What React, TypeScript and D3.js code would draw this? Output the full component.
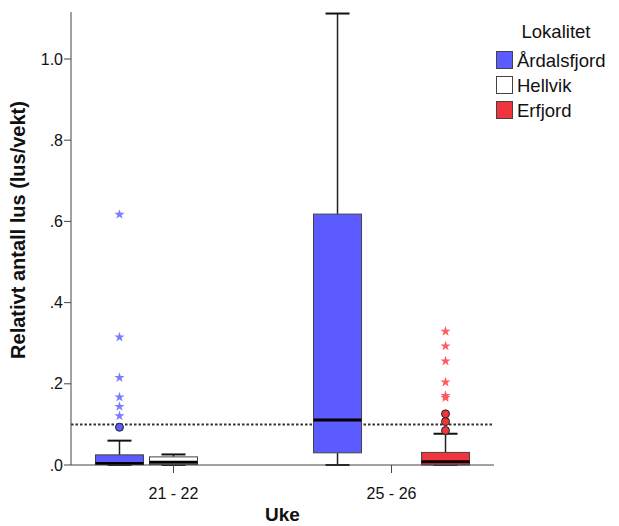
import React from "react";
import * as d3 from "d3";

const groups = ["21 - 22", "25 - 26"];
const series = ["Årdalsfjord", "Hellvik", "Erfjord"];
const colors = ["#5b5bff", "#ffffff", "#f0353c"];
const starColors = ["#7b7bff", "#ffffff", "#ff5a5f"];

// [group][series] = {lo, q1, med, q3, hi} or null
const stats = [
  [
    { lo: 0.0, q1: 0.001, med: 0.004, q3: 0.025, hi: 0.06 },
    { lo: 0.0, q1: 0.001, med: 0.007, q3: 0.02, hi: 0.026 },
    null,
  ],
  [
    { lo: 0.0, q1: 0.03, med: 0.111, q3: 0.618, hi: 1.112 },
    null,
    { lo: 0.0, q1: 0.0, med: 0.008, q3: 0.031, hi: 0.077 },
  ],
];
const outliers = [
  [[0.093], [], []],
  [[], [], [0.085, 0.107, 0.126]],
];
const extremes = [
  [[0.617, 0.315, 0.215, 0.167, 0.144, 0.121], [], []],
  [[], [], [0.166, 0.171, 0.204, 0.256, 0.293, 0.329]],
];
const yTicks = [0, 0.2, 0.4, 0.6, 0.8, 1.0];
const refLine = 0.1;

export default function App() {
  const W = 619, H = 526;
  const left = 71, right = 494, top = 12, bottom = 465;
  const y = d3.scaleLinear().domain([0, 1.0]).range([bottom, 59]);
  const x = d3.scalePoint<string>().domain(groups).range([left, right]).padding(0.47);
  const sub = d3.scaleBand<string>().domain(series).range([-78, 78]).paddingInner(0.111).paddingOuter(0);
  const bw = sub.bandwidth();
  const fmt = (v: number) => (v === 0 ? ".0" : v >= 1 ? v.toFixed(1) : d3.format(".1f")(v).replace(/^0/, ""));
  const star = d3.symbol().type(d3.symbolStar).size(32)();

  return (
    <svg width={W} height={H} style={{ position: "absolute", left: 0, top: 0, fontFamily: "Liberation Sans, Arial, sans-serif" }}>
      <rect width={W} height={H} fill="#fff" />
      {/* reference line */}
      <line x1={left} x2={right} y1={y(refLine)} y2={y(refLine)} stroke="#333" strokeWidth={2} strokeDasharray="2.5,2" />
      {/* boxes */}
      {groups.map((g, gi) =>
        series.map((s, si) => {
          const st = stats[gi][si];
          const cx = (x(g) as number) + (sub(s) as number) + bw / 2;
          return (
            <g key={g + s}>
              {st && (
                <g>
                  <line x1={cx} x2={cx} y1={y(st.hi)} y2={y(st.q3)} stroke="#222" strokeWidth={1.5} />
                  <line x1={cx} x2={cx} y1={y(st.q1)} y2={y(st.lo)} stroke="#222" strokeWidth={1.5} />
                  <line x1={cx - bw / 4} x2={cx + bw / 4} y1={y(st.hi)} y2={y(st.hi)} stroke="#111" strokeWidth={2} />
                  <line x1={cx - bw / 4} x2={cx + bw / 4} y1={y(st.lo)} y2={y(st.lo)} stroke="#111" strokeWidth={2} />
                  <rect x={cx - bw / 2} y={y(st.q3)} width={bw} height={Math.max(1, y(st.q1) - y(st.q3))} fill={colors[si]} stroke="#444" strokeWidth={1} />
                  <line x1={cx - bw / 2} x2={cx + bw / 2} y1={y(st.med)} y2={y(st.med)} stroke="#000" strokeWidth={3} />
                </g>
              )}
              {outliers[gi][si].map((v, i) => (
                <circle key={"o" + i} cx={cx} cy={y(v)} r={4} fill={colors[si]} stroke="#222" strokeWidth={1} />
              ))}
              {extremes[gi][si].map((v, i) => (
                <path key={"e" + i} d={star as string} transform={`translate(${cx},${y(v)})`} fill={starColors[si]} />
              ))}
            </g>
          );
        })
      )}
      {/* axes */}
      <line x1={left} x2={left} y1={top} y2={bottom} stroke="#444" strokeWidth={1} />
      <line x1={left} x2={right} y1={bottom} y2={bottom} stroke="#444" strokeWidth={1} />
      {yTicks.map((t) => (
        <g key={t}>
          <line x1={left - 7} x2={left} y1={y(t)} y2={y(t)} stroke="#444" />
          <text x={left - 8} y={y(t)} dy="0.35em" textAnchor="end" fontSize={16} fill="#111">
            {fmt(t)}
          </text>
        </g>
      ))}
      {groups.map((g) => (
        <g key={g}>
          <line x1={x(g) as number} x2={x(g) as number} y1={bottom} y2={bottom + 8} stroke="#444" />
          <text x={x(g) as number} y={bottom + 34} textAnchor="middle" fontSize={16} fill="#111">
            {g}
          </text>
        </g>
      ))}
      <text x={(left + right) / 2} y={521} textAnchor="middle" fontSize={19} fontWeight="bold" fill="#111">
        Uke
      </text>
      <text transform={`translate(25,230) rotate(-90)`} textAnchor="middle" fontSize={20} fontWeight="bold" fill="#111">
        Relativt antall lus (lus/vekt)
      </text>
      {/* legend */}
      <text x={556} y={38} textAnchor="middle" fontSize={18.5} fill="#111">
        Lokalitet
      </text>
      {series.map((s, i) => (
        <g key={s}>
          <rect x={496.5} y={51.5 + i * 25} width={16} height={17} fill={colors[i]} stroke="#444" strokeWidth={1} />
          <text x={517} y={67 + i * 25} fontSize={18.5} fill="#111">
            {s}
          </text>
        </g>
      ))}
    </svg>
  );
}
